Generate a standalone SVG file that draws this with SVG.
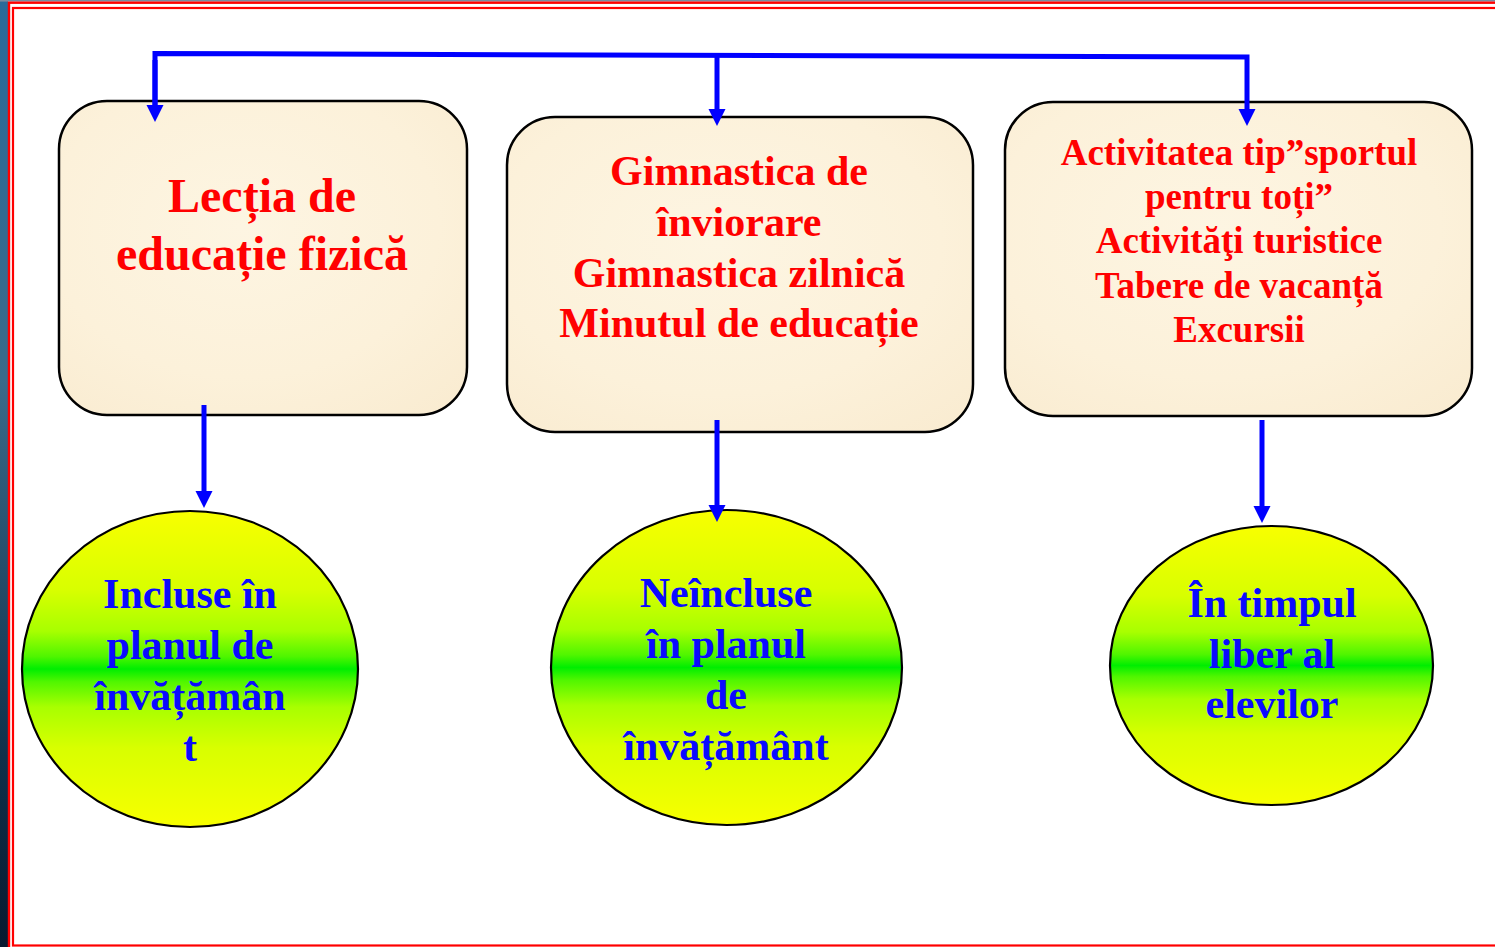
<svg xmlns="http://www.w3.org/2000/svg" width="1495" height="947" viewBox="0 0 1495 947">
<style>
.box{stroke:#000;stroke-width:2.5;fill:url(#parch)}
.ell{stroke:#000;stroke-width:2.2;fill:url(#yg)}
.rt{font-family:"Liberation Serif","Times New Roman",serif;font-weight:bold;fill:#ff0000;text-anchor:middle}
.bt{font-family:"Liberation Serif","Times New Roman",serif;font-weight:bold;fill:#0a0aff;text-anchor:middle;font-size:42px}
.con{fill:none;stroke:#0000ff;stroke-width:5;stroke-linejoin:miter}
</style>
<defs>
<radialGradient id="parch" cx="0.45" cy="0.4" r="0.8">
<stop offset="0" stop-color="#fdf5e2"/>
<stop offset="0.6" stop-color="#fcf1da"/>
<stop offset="1" stop-color="#f9ebd0"/>
</radialGradient>
<linearGradient id="yg" x1="0" y1="0" x2="0" y2="1">
<stop offset="0" stop-color="#f8ff00"/>
<stop offset="0.25" stop-color="#d8ff00"/>
<stop offset="0.38" stop-color="#a8ff00"/>
<stop offset="0.46" stop-color="#50f600"/>
<stop offset="0.5" stop-color="#00ee00"/>
<stop offset="0.54" stop-color="#50f600"/>
<stop offset="0.62" stop-color="#a8ff00"/>
<stop offset="0.75" stop-color="#d8ff00"/>
<stop offset="1" stop-color="#f8ff00"/>
</linearGradient>
<linearGradient id="bg" x1="0" y1="0" x2="0" y2="1">
<stop offset="0" stop-color="#2a6a9a"/>
<stop offset="0.4" stop-color="#3a6a8a"/>
<stop offset="0.8" stop-color="#10304a"/>
<stop offset="1" stop-color="#081a30"/>
</linearGradient>
<marker id="ah" markerUnits="userSpaceOnUse" markerWidth="18" markerHeight="18" viewBox="0 -9 17 18" refX="0" refY="0" orient="auto">
<path d="M0,-8.5 L17,0 L0,8.5 z" fill="#0000ff"/>
</marker>
</defs>
<rect x="0" y="0" width="1495" height="947" fill="#ffffff"/>
<rect x="0" y="0" width="8" height="947" fill="url(#bg)"/>
<rect x="0" y="0" width="1495" height="1.6" fill="#7a8aa0"/>
<g id="frame" fill="none" stroke="#ff0000">
<rect x="9" y="2.7" width="1500" height="960" stroke-width="2.4"/>
<rect x="13" y="8" width="1500" height="937.5" stroke-width="2.2"/>
</g>
<g id="box1">
<rect class="box" x="59" y="101" width="408" height="314" rx="48"/>
<text class="rt" font-size="48" x="262" y="212">Lecția de</text>
<text class="rt" font-size="48" x="262" y="270">educație fizică</text>
</g>
<g id="box2">
<rect class="box" x="507" y="117" width="466" height="315" rx="48"/>
<text class="rt" font-size="42" x="739" y="185">Gimnastica de</text>
<text class="rt" font-size="42" x="739" y="236">înviorare</text>
<text class="rt" font-size="42" x="739" y="287">Gimnastica zilnică</text>
<text class="rt" font-size="42" x="739" y="337">Minutul de educație</text>
</g>
<g id="box3">
<rect class="box" x="1005" y="102" width="467" height="314" rx="48"/>
<text class="rt" font-size="37" x="1239" y="165">Activitatea tip”sportul</text>
<text class="rt" font-size="37" x="1239" y="209">pentru toți”</text>
<text class="rt" font-size="37" x="1239" y="253">Activităţi turistice</text>
<text class="rt" font-size="37" x="1239" y="298">Tabere de vacanță</text>
<text class="rt" font-size="37" x="1239" y="342">Excursii</text>
</g>
<g id="ell1">
<ellipse class="ell" cx="190" cy="669" rx="168" ry="158"/>
<text class="bt" x="190" y="608">Incluse în</text>
<text class="bt" x="190" y="659">planul de</text>
<text class="bt" x="190" y="710">învățămân</text>
<text class="bt" x="190" y="761">t</text>
</g>
<g id="ell2">
<ellipse class="ell" cx="726.5" cy="667.5" rx="175.5" ry="157.5"/>
<text class="bt" x="726" y="607">Neîncluse</text>
<text class="bt" x="726" y="658">în planul</text>
<text class="bt" x="726" y="709">de</text>
<text class="bt" x="726" y="760">învățământ</text>
</g>
<g id="ell3">
<ellipse class="ell" cx="1271.5" cy="665.5" rx="161.5" ry="139.5"/>
<text class="bt" x="1272" y="617">În timpul</text>
<text class="bt" x="1272" y="668">liber al</text>
<text class="bt" x="1272" y="718">elevilor</text>
</g>
<g id="connectors">
<path class="con" d="M155,105 L155,53.5 L1247,57 L1247,109" marker-end="url(#ah)"/>
<path class="con" d="M155,60 L155,105" marker-end="url(#ah)"/>
<path class="con" d="M717,55 L717,109" marker-end="url(#ah)"/>
<path class="con" d="M204,405 L204,491" marker-end="url(#ah)"/>
<path class="con" d="M717,420 L717,505" marker-end="url(#ah)"/>
<path class="con" d="M1262,420 L1262,506" marker-end="url(#ah)"/>
</g>
</svg>
